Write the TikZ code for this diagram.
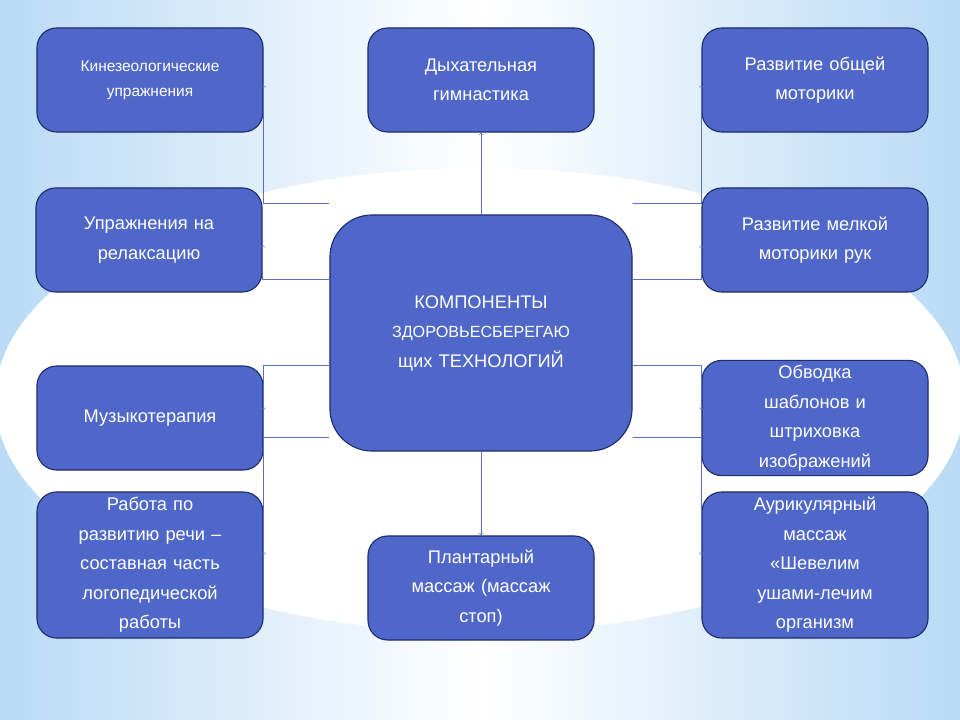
\documentclass[tikz,border=0pt]{standalone}
\usepackage{fontspec}
\setmainfont{Liberation Sans}
\usetikzlibrary{arrows,positioning}

\definecolor{boxblue}{HTML}{4F67C8}
\definecolor{edgeblue}{HTML}{1F2C6E}
\definecolor{lineblue}{HTML}{5A6FBE}
\definecolor{skyblue}{HTML}{B9DAF5}

\begin{document}
\begin{tikzpicture}[x=0.025cm, y=-0.025cm, align=center]
    \tikzset{
        n/.style        =   { rectangle
                            , rounded corners=14pt
                            , draw=edgeblue
                            , thick
                            , fill=boxblue
                            , text=white
                            , font=\fontsize{13}{21}\selectfont
                            , text width=5.4cm
                            , minimum width=5.65cm
                            , minimum height=2.6cm
        }
        , hub/.style    =   { n
                            , rounded corners=30pt
                            , text width=7cm
                            , minimum width=7.55cm
                            , minimum height=5.9cm
        }
        , arrow/.style  =   { draw=lineblue
                            , thin
                            , ->
                            , >=to
        }
    }
    % background
    \useasboundingbox (0,0) rectangle (960,720);
    \shade[left color=skyblue, right color=skyblue, middle color=white] (0,0) rectangle (960,720);
    \fill[white] (480,400) ellipse [x radius=485, y radius=232];

    % boxes
    \node(hub)[hub] at (481,333) {КОМПОНЕНТЫ\\{\fontsize{11.5}{19}\selectfont ЗДОРОВЬЕСБЕРЕГАЮ}\\щих ТЕХНОЛОГИЙ\\[1.6cm]};
    \node(kin)[n, font=\fontsize{11}{18}\selectfont] at (150,80)  {Кинезеологические\\упражнения\\[0.5cm]};
    \node(dyh)[n] at (481,80)  {Дыхательная\\гимнастика\\[0.5cm]};
    \node(obs)[n] at (815,80)  {Развитие общей\\моторики\\[0.5cm]};
    \node(rel)[n] at (149,240) {Упражнения на\\релаксацию};
    \node(mel)[n] at (815,240) {Развитие мелкой\\моторики рук};
    \node(mus)[n] at (150,418) {Музыкотерапия};
    \node(obv)[n] at (815,418) {Обводка\\шаблонов и\\штриховка\\изображений};
    \node(rec)[n, minimum height=3.65cm] at (150,565) {Работа по\\развитию речи –\\составная часть\\логопедической\\работы};
    \node(pla)[n] at (481,588) {Плантарный\\массаж (массаж\\стоп)};
    \node(aur)[n, minimum height=3.65cm] at (815,565) {Аурикулярный\\массаж\\«Шевелим\\ушами-лечим\\организм};

    % levels of the elbows
    \coordinate (a1) at (0,203);
    \coordinate (a2) at (0,279);
    \coordinate (a3) at (0,365);
    \coordinate (a4) at (0,437);
    \coordinate (t1) at (0,85);
    \coordinate (t2) at (0,245);
    \coordinate (t3) at (0,410);
    \coordinate (t4) at (0,555);

    % connectors
    \draw[arrow] (hub) -- (dyh);
    \draw[arrow] (hub) -- (pla);
    \draw[arrow] (hub.west |- a1) -| (kin.east |- t1);
    \draw[arrow] (hub.west |- a2) -| (rel.east |- t2);
    \draw[arrow] (hub.west |- a3) -| (mus.east |- t3);
    \draw[arrow] (hub.west |- a4) -| (rec.east |- t4);
    \draw[arrow] (hub.east |- a1) -| (obs.west |- t1);
    \draw[arrow] (hub.east |- a2) -| (mel.west |- t2);
    \draw[arrow] (hub.east |- a3) -| (obv.west |- t3);
    \draw[arrow] (hub.east |- a4) -| (aur.west |- t4);
\end{tikzpicture}
\end{document}
